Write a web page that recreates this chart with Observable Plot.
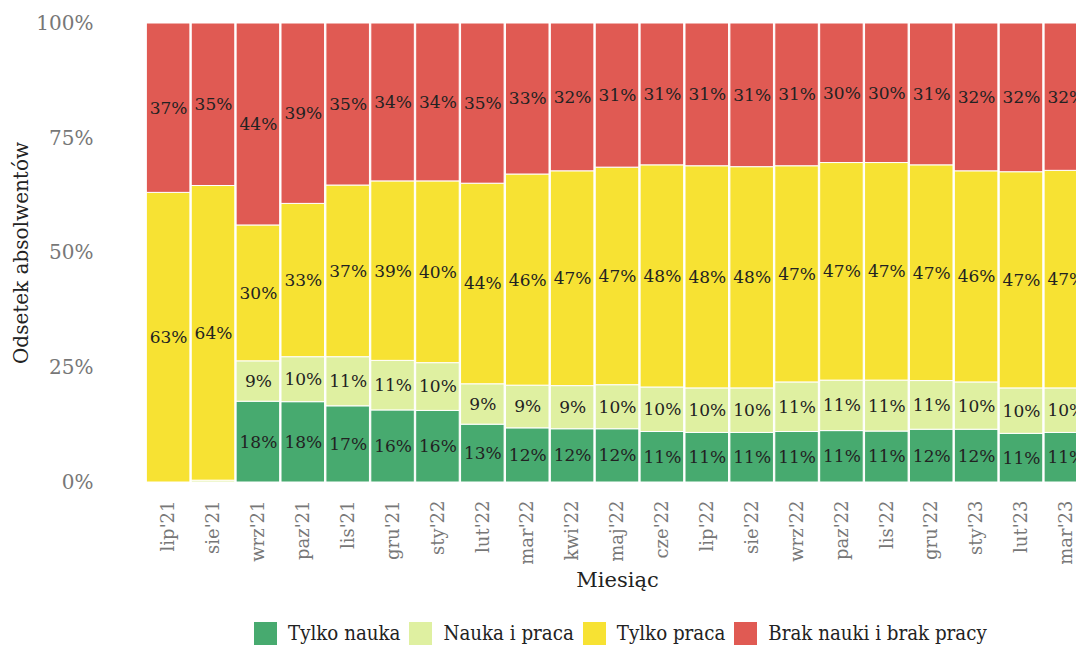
<!DOCTYPE html>
<html>
<head>
<meta charset="utf-8">
<script src="https://cdn.jsdelivr.net/npm/d3@7"></script>
<script src="https://cdn.jsdelivr.net/npm/@observablehq/plot@0.6"></script>
<style>
  html, body { margin: 0; padding: 0; background: white; overflow: hidden; }
  #wrap { position: relative; width: 1076px; height: 645px; overflow: hidden; background: white; }
  #chart svg { display: block; max-width: none !important; width: 1090px !important; height: 610px !important; }
  #legend { position: absolute; top: 622px; left: 254px; display: flex; align-items: center;
            font-family: "DejaVu Serif Condensed", "DejaVu Serif", serif; font-size: 20.3px; color: #222; white-space: nowrap; }
  .sw { width: 23px; height: 23px; margin-right: 11px; flex: none; }
  .lab { margin-right: 9px; line-height: 23px; }
</style>
</head>
<body>
<div id="wrap">
  <div id="chart"></div>
  <div id="legend"></div>
</div>
<script>
const months = ["lip'21","sie'21","wrz'21","paz'21","lis'21","gru'21","sty'22","lut'22","mar'22","kwi'22","maj'22","cze'22","lip'22","sie'22","wrz'22","paz'22","lis'22","gru'22","sty'23","lut'23","mar'23"];
const categories = ["Tylko nauka","Nauka i praca","Tylko praca","Brak nauki i brak pracy"];
const colors = ["#47AA6F","#DFF0A1","#F7E233","#E05A53"];
const tylkoNauka  = [0, 0, 17.6, 17.5, 16.6, 15.7, 15.6, 12.6, 11.8, 11.6, 11.6, 11.0, 10.8, 10.8, 11.0, 11.2, 11.1, 11.5, 11.5, 10.6, 10.8];
const naukaIPraca = [0, 0.4, 8.8, 9.8, 10.7, 10.8, 10.4, 8.8, 9.3, 9.4, 9.6, 9.7, 9.7, 9.7, 10.8, 11.0, 11.1, 10.6, 10.3, 9.9, 9.7];
const tylkoPraca  = [63.1, 64.2, 29.6, 33.4, 37.4, 39.1, 39.6, 43.7, 46.0, 46.8, 47.4, 48.4, 48.4, 48.2, 47.1, 47.4, 47.4, 47.0, 46.0, 47.1, 47.4];
const brak        = [36.9, 35.4, 44.0, 39.3, 35.3, 34.4, 34.4, 34.9, 32.9, 32.2, 31.4, 30.9, 31.1, 31.3, 31.1, 30.4, 30.4, 30.9, 32.2, 32.4, 32.1];
const yTicks = [0, 25, 50, 75, 100];

const series = [tylkoNauka, naukaIPraca, tylkoPraca, brak];
const data = months.flatMap((m, i) => categories.map((c, j) => ({month: m, category: c, value: series[j][i]})));

const chart = Plot.plot({
  width: 1090,
  height: 610,
  marginLeft: 145,
  marginRight: 1,
  marginTop: 23,
  marginBottom: 128,
  style: {fontFamily: "DejaVu Serif", background: "white"},
  x: {domain: months, padding: 0.03, round: false, label: null},
  y: {domain: [0, 100], label: null},
  color: {domain: categories, range: colors},
  marks: [
    Plot.barY(data, {x: "month", y: "value", fill: "category", order: categories, stroke: "white", strokeWidth: 1}),
    Plot.text(data, Plot.stackY({
      x: "month", y: "value", z: "category", order: categories,
      text: d => d.value >= 3 ? Math.round(d.value) + "%" : "",
      fill: "#222", fontSize: 17
    })),
    Plot.axisY({ticks: yTicks, tickFormat: d => d + "%", tickSize: 0, tickPadding: 52, fontSize: 20, color: "#777", label: null}),
    Plot.axisX({tickRotate: -90, tickSize: 0, tickPadding: 18, fontSize: 18, color: "#777", label: null}),
    Plot.text(["Odsetek absolwentów"], {frameAnchor: "left", rotate: -90, dx: -124, textAnchor: "middle", lineAnchor: "middle", fontSize: 20, fill: "#222"}),
    Plot.text(["Miesiąc"], {frameAnchor: "bottom", dy: 98, textAnchor: "middle", lineAnchor: "middle", fontSize: 21, fill: "#222"})
  ]
});
document.getElementById("chart").appendChild(chart);

const legend = document.getElementById("legend");
categories.forEach((c, i) => {
  const sw = document.createElement("div");
  sw.className = "sw";
  sw.style.background = colors[i];
  const lab = document.createElement("div");
  lab.className = "lab";
  lab.textContent = c;
  legend.appendChild(sw);
  legend.appendChild(lab);
});
</script>
</body>
</html>
